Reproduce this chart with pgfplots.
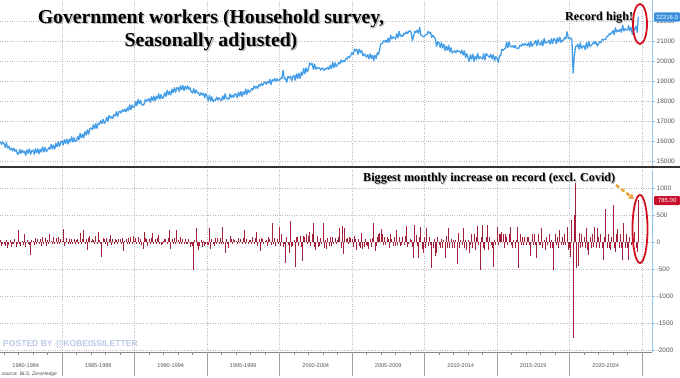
\documentclass[border=0pt]{standalone}
\usepackage{pgfplots}
\pgfplotsset{compat=1.18}
\usepackage{pgfplotstable}
\usepackage{fontspec}
\setmainfont{Liberation Serif}
\setsansfont{Liberation Sans}
\usetikzlibrary{arrows.meta}

\definecolor{lineblue}{HTML}{449DE6}
\definecolor{axisblue}{HTML}{8CC4EE}
\definecolor{barred}{HTML}{A3203A}
\definecolor{boxblue}{HTML}{3A8FDD}
\definecolor{boxred}{HTML}{C8102E}
\definecolor{gridgray}{HTML}{BBBBBB}
\definecolor{axisgray}{HTML}{888888}
\definecolor{ticktext}{HTML}{555555}
\definecolor{arroworange}{HTML}{E9A53C}
\definecolor{watermark}{HTML}{BCC8E8}
\definecolor{sepblack}{HTML}{333333}
\definecolor{ellred}{HTML}{D0101E}

\pgfplotstableread[row sep=\\]{v\\
15970\\15830\\15950\\
15890\\15680\\15910\\15650\\15740\\15570\\15640\\15500\\15650\\15490\\15560\\15370\\
15330\\15570\\15380\\15550\\15420\\15490\\15280\\15560\\15390\\15600\\15340\\15520\\
15540\\15340\\15610\\15410\\15610\\15360\\15590\\15450\\15710\\15450\\15680\\15480\\
15540\\15660\\15590\\15830\\15600\\15790\\15600\\15890\\15710\\15960\\15740\\15950\\
15990\\15800\\16070\\15890\\16090\\15850\\16090\\15950\\16210\\15950\\16160\\15970\\
16020\\16240\\16060\\16380\\16160\\16340\\16160\\16470\\16300\\16560\\16340\\16620\\
16650\\16570\\16810\\16610\\16870\\16630\\16890\\16840\\17010\\16870\\17080\\16880\\
16960\\17180\\16990\\17280\\17140\\17210\\17130\\17310\\17250\\17460\\17230\\17450\\
17490\\17400\\17560\\17480\\17590\\17460\\17660\\17520\\17810\\17560\\17800\\17680\\
17720\\17960\\17770\\18080\\17860\\18030\\17820\\17790\\17850\\18090\\17970\\18060\\
18120\\17940\\18210\\18030\\18240\\18000\\18240\\18110\\18360\\18100\\18320\\18130\\
18180\\18410\\18230\\18530\\18310\\18490\\18300\\18590\\18420\\18660\\18440\\18650\\
18670\\18480\\18760\\18570\\18770\\18520\\18740\\18600\\18750\\18590\\18660\\18460\\
18400\\18620\\18390\\18550\\18400\\18420\\18280\\18410\\18300\\18390\\18160\\18370\\
18220\\18020\\18290\\18000\\18210\\17960\\18060\\18040\\18190\\18050\\18160\\18080\\
18020\\18260\\18070\\18360\\18130\\18120\\18080\\18350\\18170\\18290\\18170\\18360\\
18350\\18160\\18430\\18250\\18470\\18230\\18460\\18330\\18590\\18340\\18560\\18440\\
18500\\18620\\18560\\18750\\18640\\18720\\18630\\18810\\18750\\18890\\18770\\18890\\
18950\\18840\\18970\\18900\\19080\\18820\\19060\\19000\\19130\\18990\\19110\\19020\\
19050\\19140\\19110\\19530\\19100\\19140\\18940\\19230\\19150\\19230\\19000\\19230\\
19270\\19040\\19360\\19130\\19390\\19130\\19440\\19290\\19630\\19360\\19660\\19450\\
19600\\19910\\19810\\19880\\19590\\19840\\19580\\19690\\19630\\19660\\19540\\19650\\
19620\\19520\\19630\\19600\\19690\\19580\\19790\\19620\\19930\\19670\\19910\\19720\\
19800\\19920\\19860\\20050\\19940\\20020\\19960\\20140\\20100\\20230\\20170\\20290\\
20420\\20320\\20590\\20500\\20590\\20330\\20590\\20420\\20530\\20260\\20360\\20280\\
20200\\20310\\20110\\20360\\20120\\20290\\20030\\20290\\20130\\20410\\20320\\20620\\
20870\\20870\\21010\\20950\\21040\\20930\\21140\\20940\\21280\\21110\\21210\\21150\\
21100\\21360\\21160\\21480\\21240\\21290\\21230\\21390\\21350\\21460\\21370\\21470\\
21520\\21420\\21010\\21250\\21490\\21430\\21540\\21390\\21680\\21310\\21260\\21200\\
21250\\21310\\21310\\21480\\21390\\21440\\21180\\21290\\21200\\21110\\20720\\20970\\
20920\\20670\\20910\\20650\\20840\\20530\\20740\\20540\\20780\\20460\\20660\\20400\\
20450\\20510\\20410\\20530\\20490\\20490\\20380\\20540\\20300\\20510\\20170\\20370\\
20170\\19970\\20310\\20100\\20340\\19980\\20240\\20090\\20380\\20110\\20210\\20150\\
20100\\20360\\20060\\20380\\20290\\20240\\20180\\20340\\20100\\20310\\20020\\20220\\
20120\\19920\\20260\\20250\\20590\\20530\\20590\\20640\\20930\\20660\\20960\\20750\\
20700\\20760\\20660\\20780\\20640\\20640\\20630\\20790\\20750\\20860\\20770\\20870\\
20820\\20770\\20910\\20700\\20990\\20730\\20840\\20890\\21030\\20760\\21060\\20850\\
20800\\21010\\20760\\21130\\20890\\20940\\20930\\21040\\20850\\21110\\20870\\21120\\
21070\\20870\\21160\\20950\\21190\\20930\\21040\\21040\\21180\\21110\\21460\\21150\\
21100\\21160\\21060\\19400\\20240\\20740\\20730\\20840\\20600\\20910\\20620\\20720\\
20770\\20570\\20910\\20650\\20990\\20730\\20790\\20840\\20980\\20860\\20960\\20750\\
20850\\20960\\20910\\21080\\21040\\21090\\21080\\21240\\21250\\21360\\21320\\21420\\
21520\\21320\\21660\\21450\\21540\\21480\\21590\\21440\\21780\\21510\\21610\\21550\\
21550\\21760\\21510\\21680\\21340\\21540\\21580\\21740\\21431\\22216\\
}\topdata

\pgfplotstableread[row sep=\\]{v\\
40\\-70\\-40\\
-30\\-60\\40\\-100\\-50\\40\\-90\\-40\\-40\\60\\-80\\-30\\
220\\-40\\-60\\30\\-50\\160\\-80\\50\\-30\\-50\\-240\\40\\
20\\-50\\80\\-40\\60\\-40\\70\\-60\\90\\-40\\80\\-60\\
40\\-40\\150\\20\\-40\\90\\-30\\80\\-40\\90\\-30\\60\\
20\\250\\-60\\-20\\80\\-30\\60\\-40\\70\\-40\\60\\-30\\
50\\60\\-30\\170\\-30\\60\\230\\-40\\60\\-150\\80\\110\\
30\\70\\50\\-40\\120\\-30\\200\\50\\-30\\-280\\80\\60\\
-40\\80\\-60\\70\\130\\-50\\60\\-30\\70\\50\\-40\\70\\
60\\-30\\80\\-170\\30\\70\\-30\\80\\-40\\100\\-30\\120\\
20\\80\\-40\\90\\-30\\70\\-50\\-130\\200\\80\\70\\-60\\
60\\-30\\80\\170\\-30\\70\\-40\\80\\140\\-40\\-50\\-30\\
30\\70\\60\\-30\\80\\230\\-120\\70\\-30\\80\\-30\\230\\
50\\-40\\90\\-30\\60\\-40\\60\\-40\\-40\\60\\-80\\-40\\
-60\\-520\\40\\270\\-70\\-150\\-60\\40\\-80\\30\\-70\\-40\\
-50\\-50\\260\\-130\\70\\-40\\-60\\80\\-40\\80\\-40\\80\\
-30\\280\\-40\\-190\\70\\-40\\-110\\120\\60\\-40\\70\\40\\
30\\-40\\80\\-20\\70\\-30\\80\\230\\-30\\70\\-30\\40\\
50\\-40\\90\\-30\\80\\200\\-60\\70\\-170\\80\\60\\-30\\
30\\40\\-60\\90\\70\\-50\\350\\-40\\80\\-60\\70\\-30\\
280\\-60\\150\\-80\\-40\\-380\\90\\-50\\-190\\400\\-90\\-60\\
50\\-450\\100\\90\\-70\\120\\-80\\-350\\120\\90\\150\\-40\\
120\\200\\-60\\150\\350\\-80\\-150\\110\\-90\\-70\\80\\-40\\
350\\-100\\50\\-120\\80\\-60\\100\\-70\\100\\-40\\80\\-30\\
50\\90\\270\\-100\\300\\-210\\270\\60\\80\\-30\\100\\80\\
60\\-90\\120\\70\\-150\\60\\-60\\-100\\180\\-120\\-80\\60\\
-50\\-60\\-120\\60\\-80\\80\\350\\-170\\-60\\100\\150\\170\\
250\\150\\-50\\100\\-50\\100\\60\\-100\\150\\60\\-60\\100\\
-60\\220\\-50\\100\\-60\\-50\\100\\-50\\110\\300\\-80\\-40\\
60\\50\\-80\\-300\\330\\130\\-60\\-300\\100\\280\\-130\\-200\\
100\\-100\\260\\-60\\100\\-50\\-470\\-100\\60\\-250\\-200\\100\\
-50\\-100\\60\\-100\\50\\-300\\110\\-100\\270\\-110\\60\\-100\\
50\\-100\\50\\-400\\180\\-100\\50\\-50\\270\\-100\\50\\-150\\
50\\-200\\-50\\150\\-100\\150\\-150\\100\\310\\-50\\-520\\100\\
330\\-100\\-150\\100\\320\\-150\\100\\-50\\-100\\-450\\50\\-50\\
280\\-50\\150\\150\\200\\150\\-100\\150\\100\\-50\\150\\280\\
-50\\-100\\50\\-100\\50\\280\\-480\\150\\-50\\100\\-50\\100\\
-50\\100\\100\\-50\\-250\\150\\-50\\150\\-50\\-300\\150\\-50\\
-50\\260\\-100\\50\\-150\\100\\-50\\150\\-100\\50\\-100\\-520\\
150\\-50\\100\\-100\\220\\-50\\100\\-50\\150\\-50\\280\\-150\\
-100\\-270\\420\\-1780\\500\\1100\\-470\\-440\\180\\-100\\150\\-80\\
100\\-100\\270\\-150\\-230\\100\\-100\\150\\-80\\280\\-100\\270\\
100\\-100\\150\\-100\\-320\\100\\620\\-100\\150\\-100\\-150\\100\\
700\\-100\\-180\\150\\250\\-100\\150\\-100\\-320\\350\\-100\\150\\
-100\\-320\\100\\-50\\60\\-100\\200\\-100\\-180\\785\\
}\botdata

\newcommand\titlefont{\fontsize{19.8}{22}\selectfont\bfseries}
\newcommand\notefont{\fontsize{12.2}{14}\selectfont\bfseries}

\begin{document}
\begin{tikzpicture}[x=1bp,y=1bp]
\useasboundingbox (0bp,0bp) rectangle (680bp,-378bp);

% ---------- top panel ----------
\begin{axis}[
  at={(0bp,0bp)}, anchor=north west,
  scale only axis, width=652bp, height=167bp,
  xmin=1980.724, xmax=2025.69, ymin=14700, ymax=23050,
  axis y line*=right, axis x line*=bottom,
  x axis line style={draw=none},
  y axis line style={draw=axisblue, line width=0.9bp},
  xtick={1985,1990,...,2025}, xticklabels={},
  xtick style={draw=none},
  ytick={15000,16000,...,22000},
  scaled y ticks=false,
  ytick style={draw=axisblue, line width=0.6bp},
  tick align=outside, major tick length=3bp,
  xmajorgrids, ymajorgrids,
  grid style={dotted, draw=gridgray, line width=0.7bp},
  yticklabel style={font=\sffamily\fontsize{6.5}{7}\selectfont, text=ticktext, inner sep=1.5bp},
  /pgf/number format/.cd, 1000 sep={}, assume math mode=true,
]
\addplot[lineblue, line width=1.3bp, line join=round] table[x expr=1980.75+\coordindex/12, y index=0] {\topdata};
\end{axis}

% ---------- bottom panel ----------
\begin{axis}[
  at={(0bp,-170bp)}, anchor=north west,
  scale only axis, width=652bp, height=182bp,
  xmin=1980.724, xmax=2025.69, ymin=-2035, ymax=1341,
  axis y line*=right, axis x line*=bottom,
  x axis line style={draw=axisgray, line width=0.5bp},
  y axis line style={draw=axisblue, line width=0.9bp},
  xtick={1982.5,1987.5,...,2022.5},
  xticklabels={1980-1984,1985-1989,1990-1994,1995-1999,2000-2004,2005-2009,2010-2014,2015-2019,2020-2024},
  every major x tick/.append style={draw=none},
  minor xtick={1981,1982,...,2025},
  every minor x tick/.append style={draw=axisgray, line width=0.4bp},
  minor tick length=2.5bp,
  extra x ticks={1985,1990,...,2025},
  extra x tick labels={},
  extra x tick style={grid=major, major tick length=24bp, every major x tick/.append style={draw=axisgray!80, line width=0.6bp}},
  ytick={-2000,-1500,...,1000},
  scaled y ticks=false,
  ytick style={draw=axisblue, line width=0.6bp},
  tick align=outside, major tick length=3bp,
  ymajorgrids,
  grid style={dotted, draw=gridgray, line width=0.7bp},
  xticklabel style={font=\sffamily\fontsize{5.6}{6}\selectfont, text=ticktext, yshift=-5bp},
  yticklabel style={font=\sffamily\fontsize{6.5}{7}\selectfont, text=ticktext, inner sep=1.5bp},
  /pgf/number format/.cd, 1000 sep={}, assume math mode=true,
]
\addplot[ycomb, barred, line width=0.9bp] table[x expr=1980.75+\coordindex/12, y index=0] {\botdata};
\end{axis}

% separator
\draw[line width=2.2bp, sepblack] (0,-167) -- (680,-167);

% title with shadow
\node[anchor=base, font=\titlefont, text=black!55, opacity=0.5] at (212.5,-24.5) {Government workers (Household survey,};
\node[anchor=base, font=\titlefont] at (211,-23) {Government workers (Household survey,};
\node[anchor=base, font=\titlefont, text=black!55, opacity=0.5] at (212.5,-47.5) {Seasonally adjusted)};
\node[anchor=base, font=\titlefont] at (211,-46) {Seasonally adjusted)};

% annotations
\node[anchor=base west, font=\notefont, text=black!55, opacity=0.5, inner sep=0] at (566,-21) {Record high!};
\node[anchor=base west, font=\notefont, inner sep=0] at (565,-20) {Record high!};
\node[anchor=base west, font=\notefont, text=black!55, opacity=0.5, inner sep=0] at (364,-182) {Biggest monthly increase on record (excl. Covid)};
\node[anchor=base west, font=\notefont, inner sep=0] at (363,-181) {Biggest monthly increase on record (excl. Covid)};

\draw[ellred, line width=1.8bp] (640,-24) ellipse [x radius=7, y radius=20];
\draw[ellred, line width=1.8bp] (640,-229) ellipse [x radius=7.5, y radius=34];
\draw[arroworange, line width=2.6bp, dash pattern=on 4bp off 2.5bp, -{Triangle[length=5bp,width=6bp]}] (616,-185) -- (634,-199);

% value boxes
\node[fill=boxblue, text=white, font=\sffamily\fontsize{6}{6}\selectfont, anchor=west, inner xsep=1.5bp, inner ysep=1.5bp, minimum width=26bp, minimum height=9bp, rounded corners=1bp] at (654,-17) {22216.0};
\node[fill=boxred, text=white, font=\sffamily\fontsize{6}{6}\selectfont, anchor=west, inner xsep=1.5bp, inner ysep=1.5bp, minimum width=26bp, minimum height=9bp, rounded corners=1bp] at (654,-200.5) {785.00};

% watermark and source
\node[anchor=west, font=\sffamily\bfseries\fontsize{8.6}{9}\selectfont, text=watermark, inner sep=0] at (3,-344) {POSTED BY @KOBEISSILETTER};
\node[anchor=west, font=\sffamily\itshape\fontsize{5}{5}\selectfont, text=black!70, inner sep=0] at (1.5,-374.5) {source: BLS, ZeroHedge};
\end{tikzpicture}
\end{document}
